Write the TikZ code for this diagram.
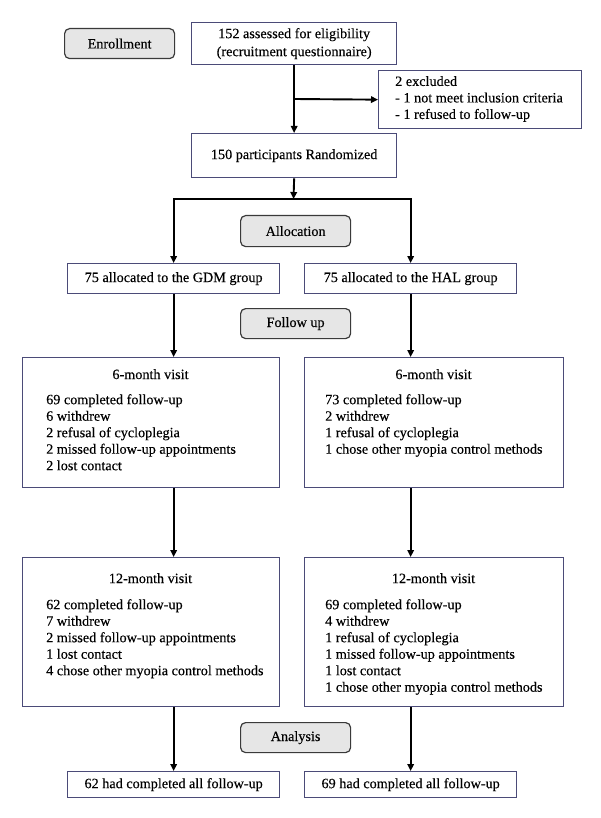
\documentclass[tikz,border=0pt]{standalone}
\usepackage{fontspec}
\setmainfont[FakeBold=0.25]{Liberation Serif}
\usetikzlibrary{arrows.meta}
\definecolor{boxc}{HTML}{4B4B78}
\definecolor{grayfill}{HTML}{E6E6E6}
\definecolor{grayline}{HTML}{3A3A3A}
\begin{document}
\begin{tikzpicture}[x=1pt,y=-1pt,
  font=\fontsize{14.2}{16.5}\selectfont,
  wbox/.style={draw=boxc, line width=1.3pt, fill=white, inner sep=0pt, anchor=north west},
  gbox/.style={draw=grayline, line width=1.2pt, fill=grayfill, rounded corners=5pt, inner sep=0pt, anchor=north west},
  txt/.style={inner sep=0pt, align=left},
  arr/.style={line width=1.9pt, -{Triangle[length=7pt,width=6.5pt]}}]
\path[use as bounding box] (0,0) rectangle (600,818);

% nodes
\node[gbox, minimum width=110pt, minimum height=30pt] (enr) at (64,28) {Enrollment};
\node[wbox, minimum width=205pt, minimum height=42pt, align=center,
      font=\fontsize{14.2}{18}\selectfont] (elig) at (191,22) {152 assessed for eligibility\\(recruitment questionnaire)};
\node[wbox, minimum width=203pt, minimum height=58pt] (excl) at (378,70) {};
\node[txt, anchor=west] (exclt) at (395,99) {2 excluded\\- 1 not meet inclusion criteria\\- 1 refused to follow-up};
\node[wbox, minimum width=205pt, minimum height=44pt] (rand) at (191,133) {150 participants Randomized};

\node[gbox, minimum width=110pt, minimum height=31pt] (alloc) at (240,215) {Allocation};
\node[wbox, minimum width=212pt, minimum height=30pt] (gdm) at (67,263) {75 allocated to the GDM group};
\node[wbox, minimum width=212pt, minimum height=30pt] (hal) at (304,263) {75 allocated to the HAL group};

\node[gbox, minimum width=110pt, minimum height=30pt] (fu) at (240,308) {Follow up};

\node[wbox, minimum width=257pt, minimum height=130pt] (m6l) at (22,357) {};
\node[txt, anchor=north] (m6lh) at (150.5,369) {6-month visit};
\node[txt, anchor=north west] (m6ll) at (46,394) {69 completed follow-up\\6 withdrew\\2 refusal of cycloplegia\\2 missed follow-up appointments\\2 lost contact};

\node[wbox, minimum width=259pt, minimum height=130pt] (m6r) at (304,357) {};
\node[txt, anchor=north] (m6rh) at (433.5,369) {6-month visit};
\node[txt, anchor=north west] (m6rl) at (325,394) {73 completed follow-up\\2 withdrew\\1 refusal of cycloplegia\\1 chose other myopia control methods};

\node[wbox, minimum width=257pt, minimum height=149pt] (m12l) at (22,557) {};
\node[txt, anchor=north] (m12lh) at (150.5,573) {12-month visit};
\node[txt, anchor=north west] (m12ll) at (46,599) {62 completed follow-up\\7 withdrew\\2 missed follow-up appointments\\1 lost contact\\4 chose other myopia control methods};

\node[wbox, minimum width=259pt, minimum height=149pt] (m12r) at (304,557) {};
\node[txt, anchor=north] (m12rh) at (433.5,573) {12-month visit};
\node[txt, anchor=north west] (m12rl) at (325,599) {69 completed follow-up\\4 withdrew\\1 refusal of cycloplegia\\1 missed follow-up appointments\\1 lost contact\\1 chose other myopia control methods};

\node[gbox, minimum width=110pt, minimum height=30pt] (ana) at (240,722) {Analysis};
\node[wbox, minimum width=212pt, minimum height=26pt] (finl) at (67,771) {62 had completed all follow-up};
\node[wbox, minimum width=212pt, minimum height=26pt] (finr) at (304,771) {69 had completed all follow-up};

% connectors
\coordinate (br) at (293.5,99);
\coordinate (sp) at (293.5,199);
\draw[arr] (elig.south) -- (rand.north);
\draw[arr] (br) -- (excl.west);
\draw[arr] (rand.south) -- (sp);
\draw[arr] (sp) -| (gdm.north);
\draw[arr] (sp) -| (hal.north);
\draw[arr] (gdm.south) -- (gdm.south |- m6l.north);
\draw[arr] (hal.south) -- (hal.south |- m6r.north);
\draw[arr] (gdm.south |- m6l.south) -- (gdm.south |- m12l.north);
\draw[arr] (hal.south |- m6r.south) -- (hal.south |- m12r.north);
\draw[arr] (gdm.south |- m12l.south) -- (finl.north);
\draw[arr] (hal.south |- m12r.south) -- (finr.north);
\end{tikzpicture}
\end{document}
